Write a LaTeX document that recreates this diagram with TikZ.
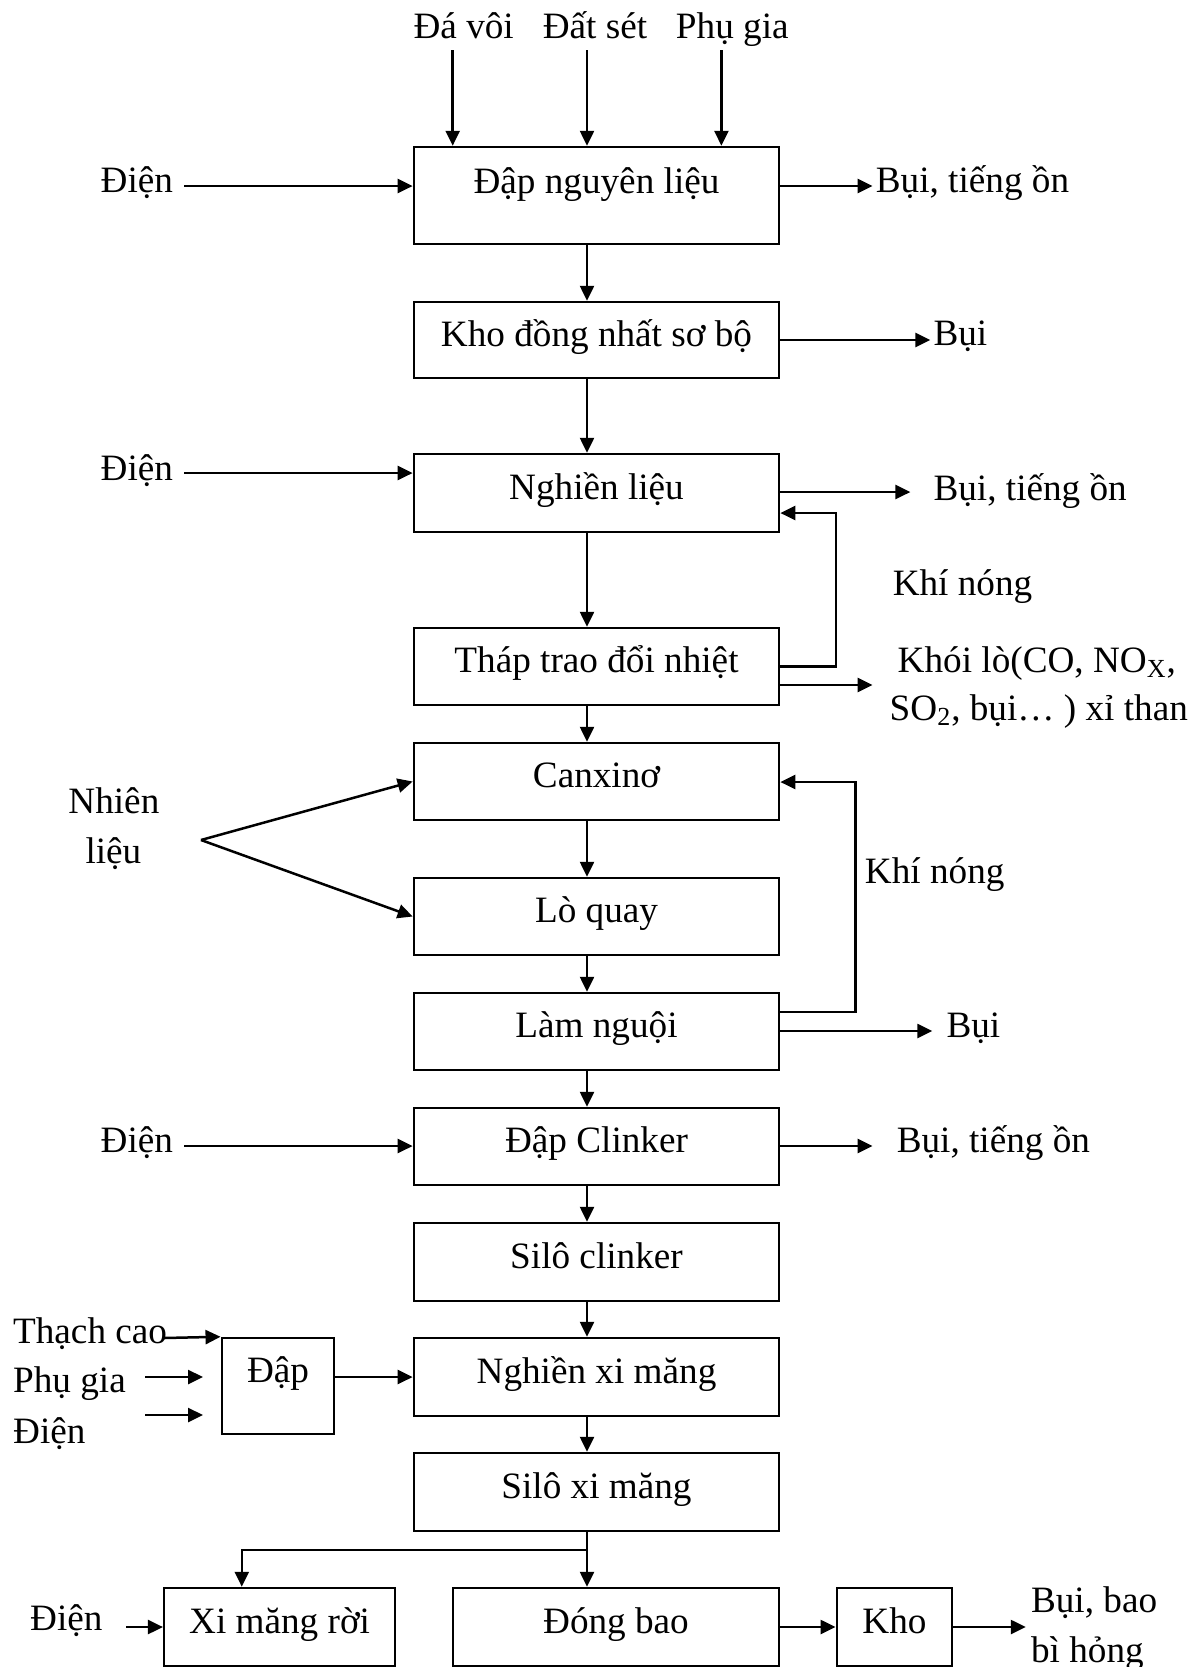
\documentclass[tikz,border=0pt]{standalone}
\usepackage{fontspec}
\setmainfont{Liberation Serif}
\usetikzlibrary{arrows.meta}
\begin{document}
\begin{tikzpicture}[x=0.5pt,y=-0.5pt, line width=1.25pt,
  arr/.style={-{Triangle[length=7.5pt,width=7pt]}},
  box/.style={draw, inner sep=0pt, minimum width=182.6pt, minimum height=38.5pt, text height=13pt, text depth=7pt},
  lbl/.style={inner sep=0pt, anchor=base},
  lblw/.style={inner sep=0pt, anchor=base west},
  font=\fontsize{18.6}{22}\selectfont]
\useasboundingbox (0,0) rectangle (1200,1667);
% main boxes
\node[box, minimum height=48.5pt, text depth=15.5pt] (b1) at (596.5,195.5) {Đập nguyên liệu};
\node[box, minimum height=38pt] (b2) at (596.5,340) {Kho đồng nhất sơ bộ};
\node[box, minimum height=39pt] (b3) at (596.5,493) {Nghiền liệu};
\node[box] (b4) at (596.5,666.5) {Tháp trao đổi nhiệt};
\node[box] (b5) at (596.5,781.5) {Canxinơ};
\node[box] (b6) at (596.5,916.5) {Lò quay};
\node[box] (b7) at (596.5,1031.5) {Làm nguội};
\node[box] (b8) at (596.5,1146.5) {Đập Clinker};
\node[box, minimum height=39pt] (b9) at (596.5,1262) {Silô clinker};
\node[box, minimum height=39pt] (b10) at (596.5,1377) {Nghiền xi măng};
\node[box, minimum height=39pt] (b11) at (596.5,1492) {Silô xi măng};
\node[box, minimum width=115.4pt, minimum height=39pt] (b12) at (279.6,1627) {Xi măng rời};
\node[box, minimum width=163.2pt, minimum height=39pt] (b13) at (616,1627) {Đóng bao};
\node[box, minimum width=57.7pt, minimum height=39pt] (b14) at (894.5,1627) {Kho};
\node[box, minimum width=56.2pt, minimum height=48pt, text depth=17pt] (bd) at (278,1386) {Đập};
% main column
\coordinate (mx) at (587,0);
\foreach \a/\b in {b1/b2,b2/b3,b3/b4,b4/b5,b5/b6,b6/b7,b7/b8,b8/b9,b9/b10,b10/b11}
  \draw[arr] (\a.south -| mx) -- (\b.north -| mx);
% top inputs
\node[lbl] (t1) at (463.7,38) {Đá vôi};
\node[lbl] (t2) at (595,38) {Đất sét};
\node[lbl] (t3) at (732.3,38) {Phụ gia};
\coordinate (t1s) at (452.7,50);
\coordinate (t2s) at (587,50);
\coordinate (t3s) at (721.4,50);
\foreach \c in {t1s,t2s,t3s} \draw[arr] (\c) -- (b1.north -| \c);
% left power inputs
\node[lblw] (e1) at (99.5,192) {Điện};
\node[lblw] (e2) at (99.5,480) {Điện};
\node[lblw] (e3) at (99.5,1152) {Điện};
\coordinate (e1s) at (184,186);
\coordinate (e2s) at (184,473);
\coordinate (e3s) at (184,1146);
\draw[arr] (e1s) -- (b1.west |- e1s);
\draw[arr] (e2s) -- (b3.west |- e2s);
\draw[arr] (e3s) -- (b8.west |- e3s);
% right outputs
\coordinate (o1) at (872.6,186);
\coordinate (o2) at (930.3,340);
\coordinate (o3) at (910.4,492);
\coordinate (o4) at (872.6,685);
\coordinate (o7) at (932.3,1031);
\coordinate (o8) at (872.6,1146);
\draw[arr] (b1.east |- o1) -- (o1);
\draw[arr] (b2.east |- o2) -- (o2);
\draw[arr] (b3.east |- o3) -- (o3);
\draw[arr] (b4.east |- o4) -- (o4);
\draw[arr] (b7.east |- o7) -- (o7);
\draw[arr] (b8.east |- o8) -- (o8);
\node[lblw] (r1) at (874.6,192) {Bụi, tiếng ồn};
\node[lblw] (r2) at (932.3,345) {Bụi};
\node[lblw] (r3) at (932.3,500) {Bụi, tiếng ồn};
\node[lbl] (r4a) at (1036.8,672) {Khói lò(CO, NO\textsubscript{X},};
\node[lbl] (r4b) at (1038.8,720) {SO\textsubscript{2}, bụi… ) xỉ than};
\node[lblw] (r7) at (945.3,1037) {Bụi};
\node[lblw] (r8) at (895.5,1152) {Bụi, tiếng ồn};
% hot gas feedback
\node[lblw] (k1) at (891.5,595) {Khí nóng};
\node[lblw] (k2) at (863.7,883) {Khí nóng};
\coordinate (f1) at (835.8,513);
\draw[arr] (b4.east) -| (f1) -- (b3.east |- f1);
\coordinate (f2a) at (855.7,1012);
\coordinate (f2) at (855.7,782);
\draw[arr] (b7.east |- f2a) -- (f2a) -- (f2) -- (b5.east |- f2);
% fuel
\node[lbl] (n1) at (113.9,813) {Nhiên};
\node[lbl] (n2) at (113.4,863) {liệu};
\coordinate (ap) at (201,840);
\draw[arr] (ap) -- (b5.west);
\draw[arr] (ap) -- (b6.west);
% crusher inputs
\node[lblw] (l1) at (11.9,1343) {Thạch cao};
\node[lblw] (l2) at (11.9,1392) {Phụ gia};
\node[lblw] (l3) at (11.9,1443) {Điện};
\coordinate (tc) at (164.2,1338);
\coordinate (pa) at (145.3,1377);
\coordinate (pb) at (203,1377);
\coordinate (da) at (145.3,1415);
\coordinate (db) at (203,1415);
\draw[arr] (tc) -- (bd.north west);
\draw[arr] (pa) -- (pb);
\draw[arr] (da) -- (db);
\draw[arr] (b10.west -| bd.east) -- (b10.west);
% split
\coordinate (sp) at (587,1550);
\coordinate (sl) at (241.8,1550);
\draw[arr] (b11.south -| mx) -- (b13.north -| mx);
\draw[arr] (sp) -- (sl) -- (b12.north -| sl);
% bottom row
\node[lblw] (eb1) at (28.9,1630) {Điện};
\coordinate (eb) at (126.4,1627);
\draw[arr] (eb) -- (b12.west);
\draw[arr] (b13.east) -- (b14.west);
\coordinate (ob) at (1025.8,1627);
\draw[arr] (b14.east) -- (ob);
\node[lblw] (z1) at (1029.8,1612) {Bụi, bao};
\node[lblw] (z2) at (1029.8,1662) {bì hỏng};
\end{tikzpicture}
\end{document}
